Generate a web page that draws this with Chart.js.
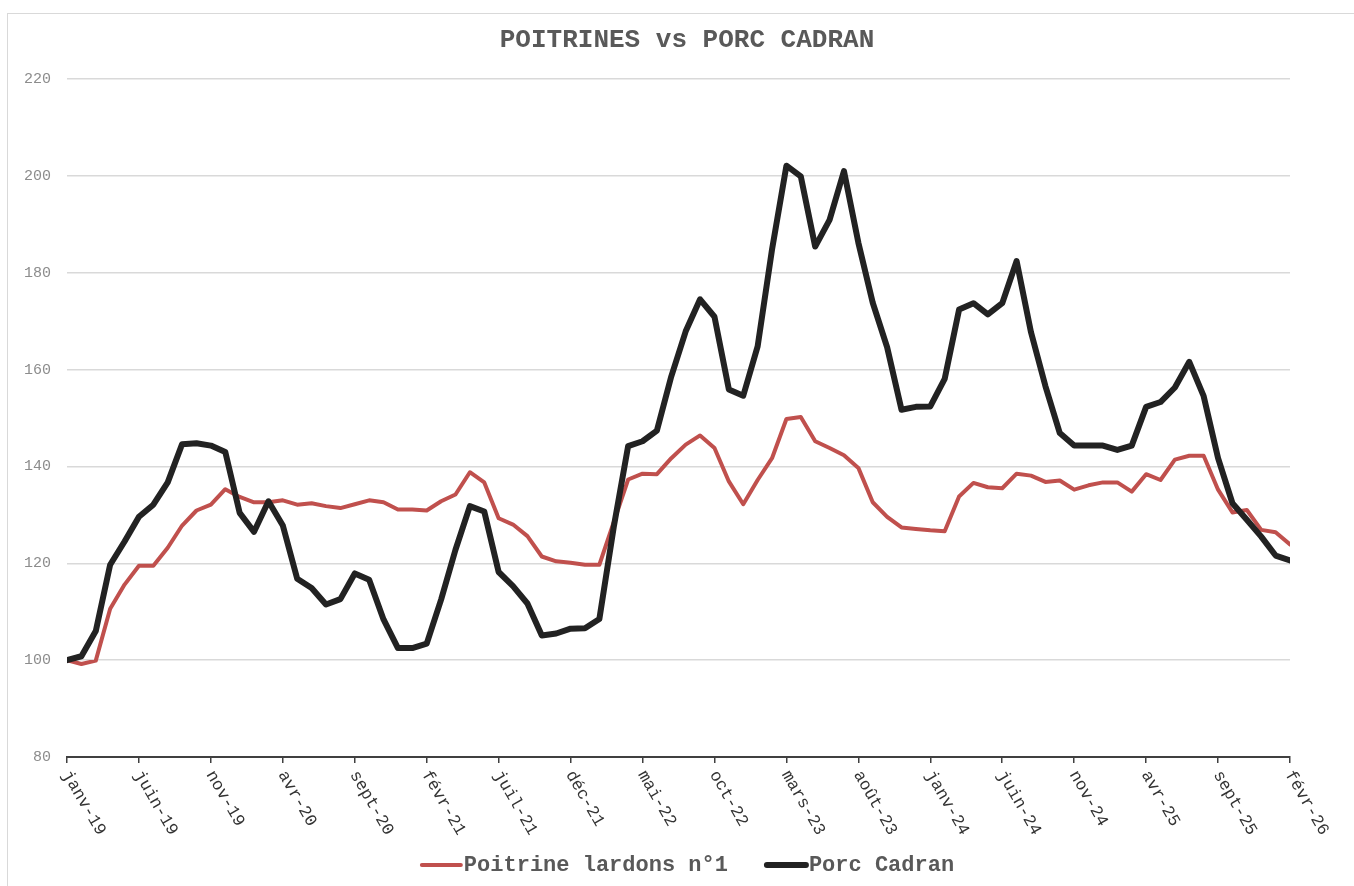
<!DOCTYPE html>
<html lang="fr">
<head>
<meta charset="UTF-8">
<title>POITRINES vs PORC CADRAN</title>
<script src="https://cdn.jsdelivr.net/npm/chart.js"></script>
<style>
  html, body { margin:0; padding:0; background:#fff; overflow:hidden; }
  .cadre { position:absolute; left:7px; top:13px; width:1400px; height:900px; border:1px solid #d9d9d9; }
  #graph { position:absolute; left:0; top:0; }
</style>
</head>
<body>
<div class="cadre"></div>
<canvas id="graph" width="1354" height="886"></canvas>
<script>
// données (indice base 100, janv-19 = 100)
const moisCourts = ['janv','févr','mars','avr','mai','juin','juil','août','sept','oct','nov','déc'];
const mois = Array.from({length: 86}, (_, i) => moisCourts[i % 12] + '-' + (19 + Math.floor(i / 12)));

const poitrine = [
  100, 99.2, 99.9, 110.6, 115.6, 119.5, 119.5, 123.2, 127.8, 130.9,
  132.1, 135.3, 133.7, 132.6, 132.6, 133.0, 132.1, 132.4, 131.8, 131.4,
  132.2, 133.0, 132.6, 131.1, 131.1, 130.9, 132.8, 134.2, 138.8, 136.7,
  129.3, 128.0, 125.6, 121.4, 120.4, 120.1, 119.7, 119.7, 128.5, 137.3,
  138.5, 138.4, 141.7, 144.5, 146.4, 143.8, 136.9, 132.2, 137.2, 141.7,
  149.8, 150.2, 145.2, 143.8, 142.3, 139.7, 132.6, 129.6, 127.4, 127.1,
  126.8, 126.6, 133.8, 136.6, 135.7, 135.5, 138.5, 138.1, 136.8, 137.1,
  135.2, 136.1, 136.7, 136.7, 134.8, 138.4, 137.2, 141.4, 142.2, 142.2,
  135.2, 130.5, 131.0, 126.9, 126.4, 123.9
];
const porcCadran = [
  100, 100.8, 106.0, 119.7, 124.5, 129.6, 132.1, 136.7, 144.6, 144.8,
  144.3, 143.0, 130.4, 126.5, 132.8, 127.8, 116.8, 114.9, 111.5, 112.6,
  117.9, 116.6, 108.4, 102.5, 102.5, 103.4, 112.5, 122.8, 131.8, 130.7,
  118.2, 115.3, 111.7, 105.1, 105.5, 106.5, 106.6, 108.5, 127.5, 144.2,
  145.2, 147.4, 158.6, 167.9, 174.5, 170.9, 155.9, 154.6, 164.8, 184.8,
  202.1, 199.9, 185.4, 190.9, 201.0, 186.2, 173.8, 164.6, 151.7, 152.3,
  152.4, 158.1, 172.4, 173.7, 171.4, 173.7, 182.4, 167.7, 156.6, 146.9,
  144.3, 144.3, 144.3, 143.4, 144.3, 152.3, 153.3, 156.3, 161.6, 154.5,
  141.7, 132.4, 129.0, 125.5, 121.6, 120.6
];
const yTicks = [80, 100, 120, 140, 160, 180, 200, 220];

const POLICE = '"Liberation Mono", "Courier New", monospace';

// titre, étiquettes inclinées et légende dessinés à la main
const decor = {
  id: 'decor',
  afterDraw(chart) {
    const ctx = chart.ctx;
    const xs = chart.scales.x;
    ctx.save();

    // titre
    ctx.fillStyle = '#595959';
    ctx.font = 'bold 26px ' + POLICE;
    ctx.textAlign = 'center';
    ctx.textBaseline = 'middle';
    ctx.fillText('POITRINES vs PORC CADRAN', 687, 40);

    // étiquettes de l'axe x (vers le bas à droite)
    ctx.font = '17px ' + POLICE;
    ctx.fillStyle = '#333333';
    ctx.textAlign = 'left';
    xs.ticks.forEach(t => {
      const px = xs.getPixelForValue(t.value);
      ctx.save();
      ctx.translate(px - 1, xs.top + 15);
      ctx.rotate(60 * Math.PI / 180);
      ctx.fillText(mois[t.value], 0, 0);
      ctx.restore();
    });

    // légende
    ctx.font = 'bold 22px ' + POLICE;
    ctx.textBaseline = 'middle';
    const ly = 865, trait = 39, ecart = 3, entre = 39;
    const items = chart.data.datasets.map(d => ({ d, w: ctx.measureText(d.label).width }));
    const total = items.reduce((s, it) => s + trait + ecart + it.w, 0) + entre * (items.length - 1);
    let x = 688 - total / 2;
    items.forEach(it => {
      ctx.strokeStyle = it.d.borderColor;
      ctx.lineWidth = it.d.borderWidth;
      ctx.lineCap = 'round';
      ctx.beginPath();
      ctx.moveTo(x, ly);
      ctx.lineTo(x + trait, ly);
      ctx.stroke();
      ctx.fillStyle = '#595959';
      ctx.fillText(it.d.label, x + trait + ecart, ly);
      x += trait + ecart + it.w + entre;
    });
    ctx.restore();
  }
};

new Chart(document.getElementById('graph'), {
  type: 'line',
  data: {
    datasets: [
      { label: 'Poitrine lardons n°1', data: poitrine.map((v, i) => ({x: i, y: v})),
        borderColor: '#c0504d', borderWidth: 4, order: 1 },
      { label: 'Porc Cadran', data: porcCadran.map((v, i) => ({x: i, y: v})),
        borderColor: '#222222', borderWidth: 6, order: 0 }
    ]
  },
  options: {
    responsive: false,
    animation: false,
    devicePixelRatio: 1,
    elements: { point: { radius: 0 }, line: { tension: 0, borderJoinStyle: 'round', borderCapStyle: 'round' } },
    layout: { padding: { top: 79, right: 64, left: 0, bottom: 0 } },
    plugins: { legend: { display: false }, title: { display: false }, tooltip: { enabled: false } },
    scales: {
      x: {
        type: 'linear', min: 0, max: mois.length - 1,
        ticks: { display: false, stepSize: 5 },
        grid: { drawOnChartArea: false, drawTicks: true, tickLength: 6, color: '#404040', lineWidth: 1.5 },
        border: { color: '#404040', width: 2 },
        afterFit: s => { s.height = 129; }
      },
      y: {
        min: yTicks[0], max: yTicks[yTicks.length - 1],
        afterBuildTicks: s => { s.ticks = yTicks.map(v => ({value: v})); },
        ticks: { color: '#8c8c8c', font: { family: POLICE, size: 15 }, padding: 16 },
        grid: { color: '#d9d9d9', lineWidth: 1.5, drawTicks: false },
        border: { display: false },
        afterFit: s => { s.width = 67; }
      }
    }
  },
  plugins: [decor]
});
</script>
</body>
</html>
